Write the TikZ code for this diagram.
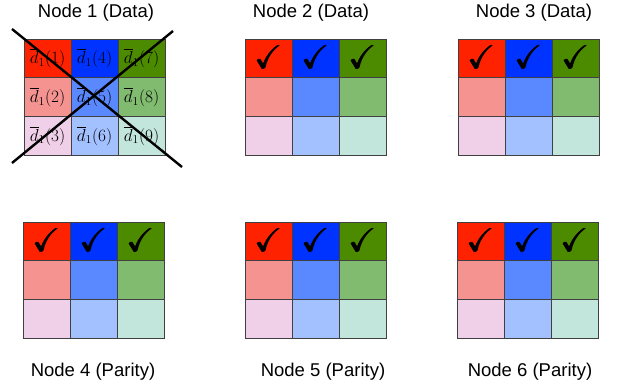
\documentclass[tikz,border=0pt]{standalone}
\usepackage{amssymb}
\usepackage{fontspec}
\newfontfamily\labelfont{Liberation Sans}
\definecolor{rA}{HTML}{FF2200}
\definecolor{rB}{HTML}{F59391}
\definecolor{rC}{HTML}{F0D0E8}
\definecolor{bA}{HTML}{0033FF}
\definecolor{bB}{HTML}{5A88FF}
\definecolor{bC}{HTML}{A3C0FF}
\definecolor{gA}{HTML}{4C8A00}
\definecolor{gB}{HTML}{80BB70}
\definecolor{gC}{HTML}{C2E5DC}
\begin{document}
\begin{tikzpicture}[x=1pt,y=-1pt,
    cell/.style={draw=black!75,line width=1pt,minimum width=47pt,minimum height=38.7pt,inner sep=0pt,outer sep=0pt},
    lab/.style={font=\labelfont\fontsize{18.5}{18.5}\selectfont,inner sep=0pt},
    tick/.style={font=\fontsize{33}{33}\selectfont,inner sep=0pt}]
  \useasboundingbox (0,0) rectangle (618,388);

  % 各ノードの3x3ブロック
  \foreach \g/\x/\y in {1/24/39,2/245/39,3/458/39,4/23/222,5/245/222,6/457/222}{
    \foreach \c/\col in {0/r,1/b,2/g}{
      \foreach \r/\sh in {0/A,1/B,2/C}{
        \node[cell,fill=\col\sh] (g\g-\c\r) at ({\x+\c*47+23.5},{\y+\r*38.7+19.35}) {};
      }
    }
  }

  % ノード1のデータ
  \foreach \c in {0,1,2}
    \foreach \r in {0,1,2}{
      \pgfmathtruncatemacro\num{3*\c+\r+1}
      \node[font=\fontsize{17}{17}\selectfont,inner sep=0pt] at (g1-\c\r) {$\overline{d}_1(\num)$};
    }

  \draw[line width=2.4pt] (12,29)--(182,167); %バツ
  \draw[line width=2.4pt] (173,31)--(12,163);

  % チェック
  \foreach \g in {2,...,6}
    \foreach \c in {0,1,2}
      \foreach \dx in {-0.5,0,0.5}
        \node[tick] at ([xshift=\dx pt,yshift=1pt]g\g-\c0) {$\checkmark$};

  \node[lab] (t1) at (96,13) {Node 1 (Data)};
  \node[lab] (t2) at (311,13) {Node 2 (Data)};
  \node[lab] (t3) at (534,13) {Node 3 (Data)};
  \node[lab] (t4) at (93,372) {Node 4 (Parity)};
  \node[lab] (t5) at (323,372) {Node 5 (Parity)};
  \node[lab] (t6) at (530,372) {Node 6 (Parity)};
\end{tikzpicture}
\end{document}
